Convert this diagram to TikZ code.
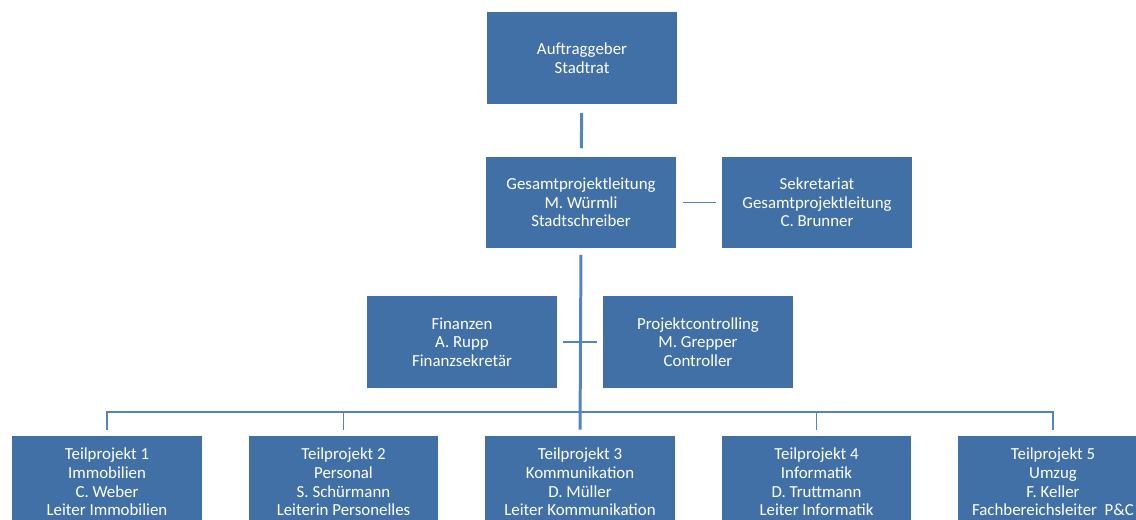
\documentclass[tikz,border=0pt]{standalone}
\usepackage{fontspec}
\setmainfont{Carlito}
\usetikzlibrary{positioning}
\definecolor{boxblue}{RGB}{65,112,166}
\definecolor{lineblue}{RGB}{84,132,192}
\tikzset{
  orgbox/.style={draw=none, fill=boxblue, text=white, align=center,
    minimum width=3.8cm, minimum height=1.84cm, inner sep=0pt,
    font=\fontsize{9.6}{10.6}\selectfont},
  conn/.style={lineblue, line width=1.1pt},
  mainconn/.style={lineblue, line width=1.7pt}
}
\begin{document}
\begin{tikzpicture}[x=0.02cm, y=-0.02cm]

  \newcommand\DX{236.5}
  \newcommand\OX{107}

  \clip (0,0) rectangle (1136,520);
  \fill[white] (0,0) rectangle (1136,520);

  \node[orgbox] (auftrag) at (582, 58) {Auftraggeber\\Stadtrat};
  \node[orgbox] (gpl) at (581, 202.5) {Gesamtprojektleitung\\M. Würmli\\Stadtschreiber};
  \node[orgbox] (sekr) at (817, 202.5) {Sekretariat\\Gesamtprojektleitung\\C. Brunner};
  \node[orgbox] (fin) at (462, 342) {Finanzen\\A. Rupp\\Finanzsekretär};
  \node[orgbox] (contr) at (698, 342) {Projektcontrolling\\M. Grepper\\Controller};

  \node[orgbox] (tp1) at (\OX+0*\DX, 482) {Teilprojekt 1\\Immobilien\\C. Weber\\Leiter Immobilien};
  \node[orgbox] (tp2) at (\OX+1*\DX, 482) {Teilprojekt 2\\Personal\\S. Schürmann\\Leiterin Personelles};
  \node[orgbox] (tp3) at (\OX+2*\DX, 482) {Teilprojekt 3\\Kommunikation\\D. Müller\\Leiter Kommunikation};
  \node[orgbox] (tp4) at (\OX+3*\DX, 482) {Teilprojekt 4\\Informatik\\D. Truttmann\\Leiter Informatik};
  \node[orgbox] (tp5) at (\OX+4*\DX, 482) {Teilprojekt 5\\Umzug\\F. Keller\\Fachbereichsleiter~~P\&C};

  \coordinate (bus) at (581, 412);

  \draw[mainconn, shorten <=5pt, shorten >=4.5pt] (auftrag) -- (gpl); %% Auftraggeber->GPL
  \draw[conn, shorten <=4pt, shorten >=3pt] (gpl) -- (sekr); %% GPL--Sekretariat
  \draw[conn, shorten <=3.5pt, shorten >=3.5pt] (fin) -- (contr); %% Stab

  \draw[mainconn, shorten <=3.5pt, shorten >=3.5pt] (gpl.south) -- (tp3.north); %% GPL->Teilprojekte
  \draw[conn, shorten >=3.5pt] (bus) -| (tp1.north);
  \draw[conn, shorten >=3.5pt] (bus) -| (tp5.north);
  \draw[conn, shorten >=3.5pt] (bus -| tp2) -- (tp2.north);
  \draw[conn, shorten >=3.5pt] (bus -| tp4) -- (tp4.north);

\end{tikzpicture}
\end{document}
